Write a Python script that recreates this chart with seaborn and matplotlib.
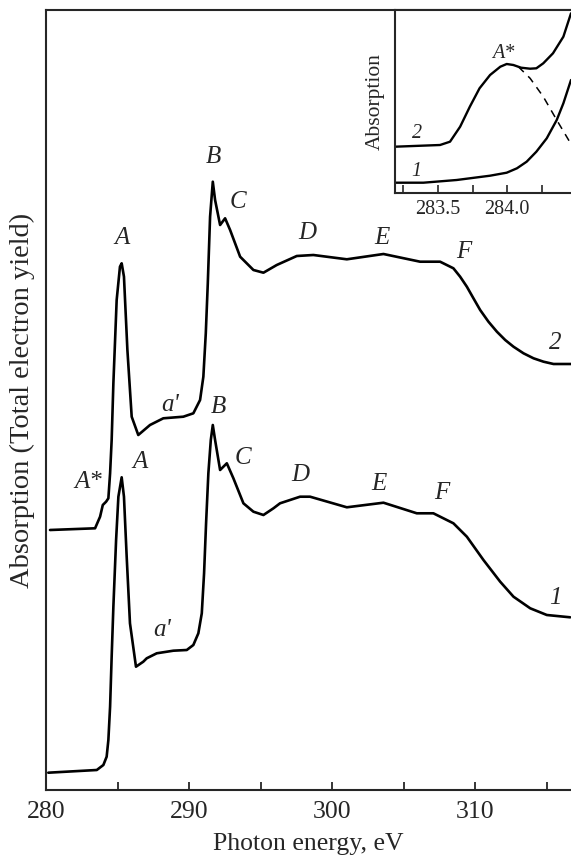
import matplotlib
matplotlib.use("Agg")
import matplotlib.pyplot as plt
from matplotlib.ticker import MultipleLocator
import seaborn as sns

# main spectra, photon energy (eV) vs absorption (arb. units)
energy_1 = [280.16, 283.55, 284.01, 284.24, 284.36, 284.48, 284.59, 284.71, 284.90, 285.06,
            285.29, 285.45, 285.64, 285.87, 286.29, 286.80, 287.04, 287.74, 288.90, 289.84,
            290.30, 290.65, 290.89, 291.05, 291.19, 291.35, 291.52, 291.66, 291.82, 292.17,
            292.64, 293.10, 293.80, 294.50, 295.20, 295.90, 296.36, 297.76, 298.46, 301.03,
            303.59, 305.92, 307.08, 308.48, 309.42, 310.58, 311.75, 312.68, 313.85, 315.01,
            316.64]
absorb_1 = [17.3, 20, 25, 33.3, 50, 83.3, 133.3, 183.3, 250, 293.3,
            312.7, 293.3, 233.3, 166.7, 123.3, 128.3, 131.7, 136.7, 139.3, 140,
            145, 156.7, 176.7, 216.7, 266.7, 316.7, 350, 365, 350, 320,
            326.7, 311.7, 286.7, 278.3, 275, 281.7, 286.7, 293.3, 293.3, 282.7,
            287.3, 276.7, 276.7, 266.7, 253.3, 230, 208.3, 193.3, 181.7, 175,
            172.7]

energy_2 = [280.28, 283.43, 283.78, 283.97, 284.20, 284.36, 284.48, 284.59, 284.71, 284.94,
            285.17, 285.29, 285.45, 285.69, 285.99, 286.45, 287.27, 288.20, 289.60, 290.30,
            290.77, 291.00, 291.17, 291.31, 291.47, 291.66, 291.82, 292.17, 292.52, 292.87,
            293.57, 294.50, 295.20, 296.13, 297.53, 298.69, 301.03, 303.59, 306.15, 307.55,
            308.48, 308.95, 309.42, 309.88, 310.35, 310.93, 311.52, 312.10, 312.68, 313.38,
            314.08, 314.78, 315.48, 316.71]
absorb_2 = [260, 261.7, 273.3, 285, 288.3, 291.7, 316.7, 350, 406.7, 490,
            523.3, 526.7, 513.3, 440, 373.3, 355, 365, 371.7, 373.3, 376.7,
            390, 413.3, 456.7, 506.7, 573.3, 608.3, 590, 565, 571.7, 560,
            533.3, 520, 517.3, 525, 534, 535, 530.7, 536, 528.3, 528.3,
            521.7, 513.3, 503.3, 491.7, 480, 468.3, 458.3, 450, 443.3, 436.7,
            431.7, 428.3, 426, 426]

# peak labels: (text, energy, absorption)
labels_2 = [("A", 285.29, 551.7), ("a'", 288.67, 385), ("A*", 282.96, 308.3), ("B", 291.70, 633.3),
            ("C", 293.45, 588.3), ("D", 298.23, 556.7), ("E", 303.48, 551.7), ("F", 309.18, 538.3),
            ("2", 315.59, 446.7)]
labels_1 = [("A", 286.57, 328.3), ("a'", 288.09, 160), ("B", 292.05, 383.3), ("C", 293.80, 331.7),
            ("D", 297.81, 315), ("E", 303.24, 306), ("F", 307.67, 297.3), ("1", 315.59, 191.7)]

# inset: pre-edge region
in_energy_2 = [283.19, 283.515, 283.587, 283.66, 283.73, 283.80, 283.876, 283.95, 283.996, 284.044,
               284.10, 284.165, 284.21, 284.26, 284.33, 284.405, 284.46]
in_absorb_2 = [46.3, 48, 51.3, 66.3, 86.3, 104.7, 118, 126.3, 129, 128,
               125.3, 124.3, 124.7, 129.7, 139.7, 156.3, 179.7]
in_energy_1 = [283.19, 283.395, 283.635, 283.876, 283.996, 284.07, 284.14, 284.21, 284.285, 284.357,
               284.405, 284.46]
in_absorb_1 = [10.3, 10.3, 13, 17.3, 20.3, 24.7, 31.3, 41.3, 54.7, 73, 89.7, 113]
in_energy_dash = [284.08, 284.165, 284.26, 284.357, 284.45]
in_absorb_dash = [126.3, 114.7, 96.3, 73, 51.3]
labels_in = [("2", 283.347, 59.7), ("1", 283.347, 21.3), ("A*", 283.97, 139.7)]

sns.set_style("ticks")
plt.rcParams['font.family'] = ['Liberation Serif', 'DejaVu Serif']

fig = plt.figure(figsize=(5.71, 8.56), dpi=100)
W, H = 571, 856
ax = fig.add_axes([46 / W, (H - 790) / H, (W - 46) / W, 780 / H])

sns.lineplot(x=energy_1, y=absorb_1, ax=ax, color="black", lw=1.9)
sns.lineplot(x=energy_2, y=absorb_2, ax=ax, color="black", lw=1.9)
for txt, xx, yy in labels_1 + labels_2:
    ax.text(xx, yy, txt, fontsize=18, fontstyle="italic", ha="center", va="center")

ax.set_xlim(280, 316.7)
ax.set_ylim(0, 780)
ax.set_yticks([])
ax.xaxis.set_major_locator(MultipleLocator(10))
ax.xaxis.set_minor_locator(MultipleLocator(5))
ax.tick_params(axis="x", which="both", direction="in", length=6, width=1.3, labelsize=18.5, pad=8)
for s in ["left", "bottom", "top"]:
    ax.spines[s].set_linewidth(1.5)
ax.spines["right"].set_visible(False)
ax.set_xlabel("Photon energy, eV", fontsize=18.5, labelpad=7)
ax.set_ylabel("Absorption (Total electron yield)", fontsize=20.5, labelpad=8)

# inset
axi = fig.add_axes([395 / W, (H - 193) / H, (W - 395) / W, 183 / H])
sns.lineplot(x=in_energy_2, y=in_absorb_2, ax=axi, color="black", lw=1.7)
sns.lineplot(x=in_energy_1, y=in_absorb_1, ax=axi, color="black", lw=1.7)
sns.lineplot(x=in_energy_dash, y=in_absorb_dash, ax=axi, color="black", lw=1.1, linestyle=(0, (5, 4)))
for txt, xx, yy in labels_in:
    axi.text(xx, yy, txt, fontsize=14.5, fontstyle="italic", ha="center", va="center")
axi.set_xlim(283.19, 284.46)
axi.set_ylim(0, 183)
axi.set_yticks([])
axi.xaxis.set_major_locator(MultipleLocator(0.5))
axi.xaxis.set_minor_locator(MultipleLocator(0.25))
axi.tick_params(axis="x", which="both", direction="in", length=6, width=1.2, labelsize=14.5, pad=5)
for s in ["left", "bottom", "top"]:
    axi.spines[s].set_linewidth(1.5)
axi.spines["right"].set_visible(False)
axi.set_ylabel("Absorption", fontsize=15.5, labelpad=7)

fig.savefig("out.png", dpi=100)
